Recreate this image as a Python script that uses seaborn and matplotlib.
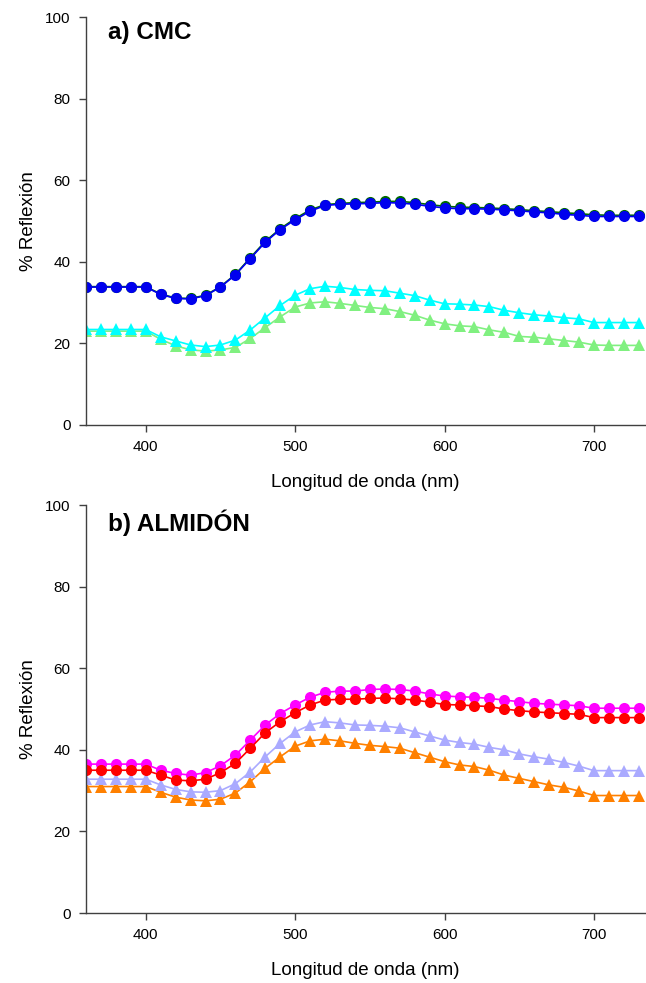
import numpy as np
import pandas as pd
import matplotlib
matplotlib.use("Agg")
import matplotlib.pyplot as plt
import seaborn as sns

nm = list(range(360, 731, 10))

# a) CMC
cmc_blue = [33.8]*5 + [32.0, 31.0, 30.9, 31.7, 33.8, 36.8, 40.8, 44.8, 47.9, 50.3, 52.4, 53.8, 54.1, 54.2, 54.3,
                       54.5, 54.4, 54.1, 53.6, 53.2, 53.0, 53.0, 52.9, 52.7, 52.5, 52.2, 52.0, 51.6, 51.4, 51.1,
                       51.1, 51.1, 51.1]
cmc_green = [33.9]*5 + [32.1, 31.1, 31.0, 31.8, 33.9, 36.9, 41.0, 45.0, 48.1, 50.6, 52.7, 54.0, 54.3, 54.5, 54.6,
                        54.8, 54.8, 54.5, 54.0, 53.6, 53.4, 53.3, 53.2, 53.0, 52.8, 52.5, 52.3, 52.0, 51.8, 51.5,
                        51.4, 51.4, 51.4]
cmc_cyan = [23.4]*5 + [21.6, 20.6, 19.6, 19.2, 19.6, 20.8, 23.3, 26.3, 29.3, 31.8, 33.4, 34.0, 33.7, 33.2, 33.0,
                       32.9, 32.3, 31.7, 30.6, 29.7, 29.6, 29.4, 29.0, 28.1, 27.5, 27.0, 26.7, 26.3, 26.0, 25.1,
                       25.1, 25.1, 25.1]
cmc_lgreen = [23.0]*5 + [21.0, 19.4, 18.4, 18.1, 18.4, 19.0, 21.2, 23.9, 26.5, 28.9, 29.9, 30.2, 29.8, 29.3, 28.8,
                         28.5, 27.8, 26.9, 25.7, 24.8, 24.3, 24.1, 23.3, 22.7, 21.7, 21.5, 21.1, 20.7, 20.3, 19.6,
                         19.5, 19.5, 19.5]

# b) ALMIDÓN
alm_magenta = [36.5]*5 + [35.0, 34.2, 33.8, 34.4, 36.1, 38.7, 42.4, 46.1, 48.9, 51.0, 52.9, 54.1, 54.4, 54.4, 54.8,
                          54.9, 54.8, 54.4, 53.7, 53.2, 53.0, 52.9, 52.6, 52.2, 51.8, 51.4, 51.2, 51.0, 50.8, 50.2,
                          50.2, 50.2, 50.2]
alm_red = [35.0]*5 + [33.8, 32.6, 32.4, 32.8, 34.4, 36.7, 40.4, 44.2, 46.9, 49.1, 51.0, 52.2, 52.4, 52.4, 52.6,
                      52.7, 52.5, 52.2, 51.7, 51.1, 51.0, 50.8, 50.6, 50.0, 49.6, 49.3, 49.1, 48.9, 48.7, 47.9,
                      47.9, 47.9, 47.9]
alm_lav = [32.8]*5 + [31.4, 30.3, 29.7, 29.6, 30.0, 31.7, 34.6, 38.3, 41.6, 44.4, 46.1, 46.9, 46.6, 46.1, 46.0,
                      45.8, 45.4, 44.4, 43.4, 42.4, 41.8, 41.4, 40.6, 40.0, 39.0, 38.3, 37.7, 36.9, 36.0, 34.9,
                      34.9, 34.9, 34.9]
alm_orange = [31.0]*5 + [29.6, 28.4, 27.7, 27.5, 27.9, 29.4, 32.2, 35.5, 38.3, 40.9, 42.2, 42.6, 42.2, 41.6, 41.1,
                         40.8, 40.4, 39.3, 38.2, 37.1, 36.3, 35.9, 35.0, 33.8, 33.0, 32.2, 31.4, 30.8, 29.9, 28.8,
                         28.8, 28.8, 28.8]

panel_a = [("g", cmc_green, "#006A00", "o"), ("b", cmc_blue, "#0000EE", "o"),
           ("lg", cmc_lgreen, "#80F080", "^"), ("c", cmc_cyan, "#00FFFF", "^")]
panel_b = [("o", alm_orange, "#FF8000", "^"), ("l", alm_lav, "#AAAAFF", "^"),
           ("m", alm_magenta, "#FF00FF", "o"), ("r", alm_red, "#FF0000", "o")]

sns.set_style("white")
plt.rcParams['font.family'] = ['Liberation Sans', 'DejaVu Sans']
plt.rcParams['text.color'] = 'black'
plt.rcParams['axes.labelcolor'] = 'black'
plt.rcParams['xtick.color'] = 'black'
plt.rcParams['ytick.color'] = 'black'

fig = plt.figure(figsize=(6.46, 9.83), dpi=100)
ax1 = fig.add_axes([0.1331, 0.5677, 0.865, 0.415])
ax2 = fig.add_axes([0.1331, 0.0712, 0.865, 0.415])

def draw(ax, series, title):
    rows = []
    for name, vals, col, mk in series:
        for x, v in zip(nm, vals):
            rows.append({"nm": x, "val": v, "s": name})
    df = pd.DataFrame(rows)
    sns.lineplot(data=df, x="nm", y="val", hue="s", style="s",
                 palette={n: c for n, _, c, _ in series},
                 markers={n: m for n, _, _, m in series},
                 dashes=False, markersize=8, markeredgewidth=0, linewidth=1.2,
                 legend=False, ax=ax, hue_order=[s[0] for s in series])
    ax.set_xlim(360, 734)
    ax.set_ylim(0, 100)
    ax.set_xticks([400, 500, 600, 700])
    ax.set_yticks([0, 20, 40, 60, 80, 100])
    for s in ["top", "right"]:
        ax.spines[s].set_visible(False)
    for s in ["left", "bottom"]:
        ax.spines[s].set_color("#404040")
        ax.spines[s].set_linewidth(1.0)
    ax.tick_params(axis="both", direction="out", length=5, width=1, color="#404040",
                   labelsize=11, pad=6, bottom=True, left=True, labelcolor="black")
    ax.set_xlabel("Longitud de onda (nm)", fontsize=13.5, labelpad=14)
    ax.set_ylabel("% Reflexión", fontsize=13.5, labelpad=6)
    ax.text(0.04, 0.99, title, transform=ax.transAxes, fontsize=17.5, fontweight="bold",
            va="top", ha="left", color="black")

draw(ax1, panel_a, "a) CMC")
draw(ax2, panel_b, "b) ALMIDÓN")

fig.savefig("out.png", dpi=100)
